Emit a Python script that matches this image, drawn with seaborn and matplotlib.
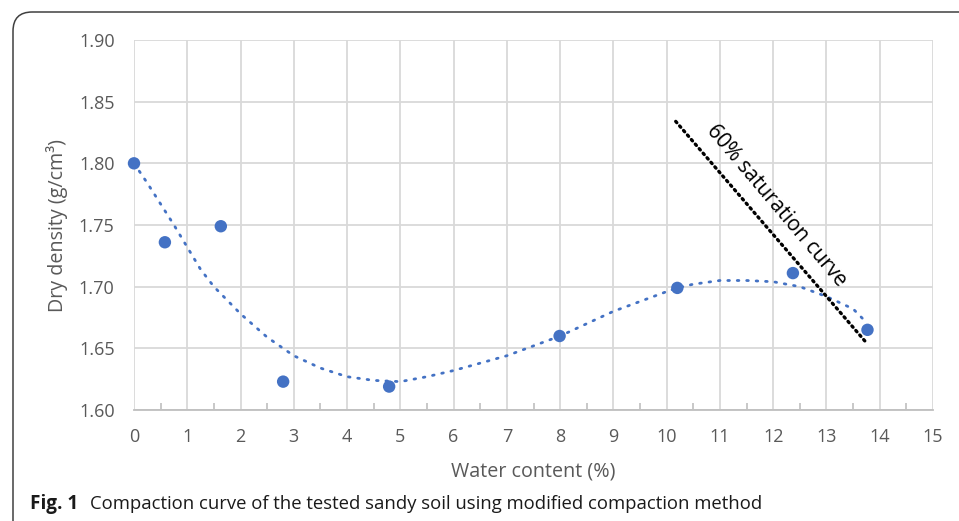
import numpy as np
import pandas as pd
import matplotlib
matplotlib.use("Agg")
import matplotlib.pyplot as plt
from matplotlib.patches import FancyBboxPatch
import seaborn as sns

# Measured compaction points
water_content = [0.0, 0.58, 1.63, 2.80, 4.79, 7.99, 10.20, 12.37, 13.77]
dry_density = [1.800, 1.736, 1.749, 1.623, 1.619, 1.660, 1.699, 1.711, 1.665]

# Trend curve through the measurements
trend_w = [0, 0.25, 0.5, 0.75, 1.0, 1.25, 1.5, 2.0, 2.5, 3.0, 3.5, 4.0, 4.5,
           5.0, 5.5, 6.0, 6.5, 7.0, 7.5, 8.0, 8.5, 9.0, 9.5, 10.0, 10.2,
           10.5, 11.0, 11.5, 12.0, 12.5, 13.0, 13.5, 13.75]
trend_d = [1.800, 1.784, 1.767, 1.750, 1.732, 1.714, 1.700, 1.678, 1.659,
           1.644, 1.634, 1.627, 1.624, 1.623, 1.627, 1.632, 1.638, 1.644,
           1.652, 1.660, 1.670, 1.680, 1.688, 1.696, 1.699, 1.702, 1.705,
           1.705, 1.704, 1.700, 1.692, 1.682, 1.671]

# 60% saturation line
sat_w = [10.17, 13.74]
sat_d = [1.834, 1.655]

x_ticks = list(range(0, 16))
y_ticks = [1.60, 1.65, 1.70, 1.75, 1.80, 1.85, 1.90]

sns.set_style("white")
plt.rcParams["font.family"] = ["Open Sans", "DejaVu Sans"]

W, H = 959, 521
fig = plt.figure(figsize=(W / 100, H / 100), dpi=100)
ax = fig.add_axes([134 / W, 1 - 410 / H, (933 - 134) / W, 370 / H])

grid_c = "#d9d9d9"
blue = "#4472C4"
txt_c = "#595959"

pts = pd.DataFrame({"w": water_content, "d": dry_density})
trend = pd.DataFrame({"w": trend_w, "d": trend_d})
sat = pd.DataFrame({"w": sat_w, "d": sat_d})

sns.lineplot(data=trend, x="w", y="d", ax=ax, color=blue, lw=2.0,
             sort=False, estimator=None, zorder=3,
             linestyle=(0, (0.6, 2.8)), dash_capstyle="round")
sns.lineplot(data=sat, x="w", y="d", ax=ax, color="black", lw=2.4,
             sort=False, estimator=None, zorder=4,
             linestyle=(0, (0.5, 1.3)), dash_capstyle="round")
sns.scatterplot(data=pts, x="w", y="d", ax=ax, color=blue, s=80,
                edgecolor="none", zorder=5, clip_on=False)

ax.set_xlim(0, 15)
ax.set_ylim(1.60, 1.90)
ax.set_xticks(x_ticks)
ax.set_xticks(np.arange(0.5, 15, 1.0), minor=True)
ax.set_yticks(y_ticks)
ax.set_yticklabels([f"{v:.2f}" for v in y_ticks])
ax.grid(True, which="major", color=grid_c, lw=1.3)
ax.set_axisbelow(True)

for side in ["top", "right", "left"]:
    ax.spines[side].set_visible(False)
ax.spines["bottom"].set_color("#bfbfbf")
ax.spines["bottom"].set_linewidth(1.3)

ax.tick_params(axis="x", which="major", length=0, labelsize=13,
               labelcolor=txt_c, pad=13)
ax.tick_params(axis="x", which="minor", direction="in", length=5,
               width=1.2, color="#bfbfbf", bottom=True)
ax.tick_params(axis="y", length=0, labelsize=13, labelcolor=txt_c, pad=14)

ax.set_xlabel("Water content (%)", fontsize=14.2, color=txt_c, labelpad=11)
ax.set_ylabel("Dry density (g/cm³)", fontsize=14.2, color=txt_c, labelpad=8)

ax.text(12.05, 1.766, "60% saturation curve", rotation=-49.8,
        rotation_mode="anchor", ha="center", va="center", fontsize=15,
        color="black", zorder=6)

# Caption
fig.text(30 / W, 1 - 504 / H, "Fig. 1", fontsize=13.6, fontweight="bold",
         ha="left", va="center", color="#1a1a1a")
fig.text(90 / W, 1 - 504 / H,
         "Compaction curve of the tested sandy soil using modified compaction method",
         fontsize=13.3, ha="left", va="center", color="#1a1a1a")

# Rounded frame around the figure panel
frame = FancyBboxPatch((13 / W, -0.2), 1.2, 1.2 + (1 - 12 / H) - 1.0,
                       boxstyle="round,pad=0,rounding_size=0.02",
                       transform=fig.transFigure, fill=False,
                       edgecolor="#404040", lw=1.1, clip_on=False,
                       mutation_aspect=W / H)
fig.patches.append(frame)

fig.savefig("out.png", dpi=100)
